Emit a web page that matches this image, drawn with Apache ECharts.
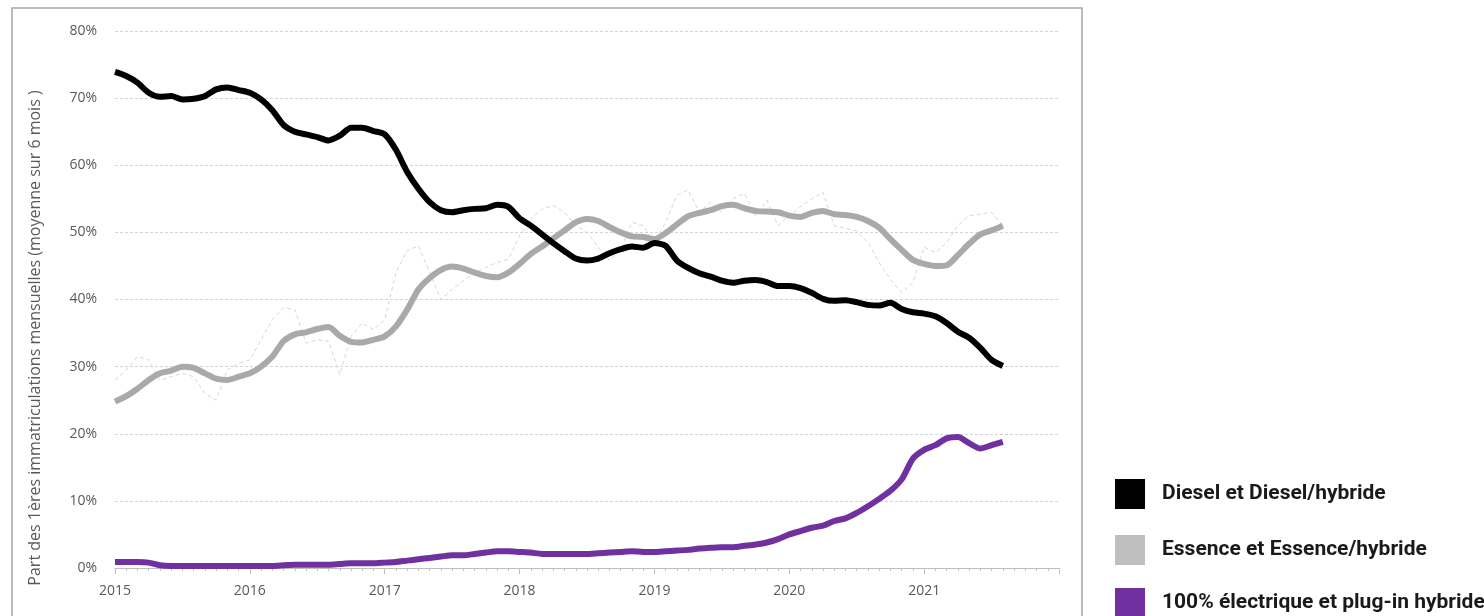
<!DOCTYPE html>
<html>
<head>
<meta charset="utf-8">
<script src="https://cdn.jsdelivr.net/npm/echarts@6/dist/echarts.min.js"></script>
<style>
html,body{margin:0;padding:0;background:#fff;}
#chart{width:1484px;height:616px;}
</style>
</head>
<body>
<div id="chart"></div>
<script>
// Monthly points starting January 2015 (index 0), ending August 2021
const yearLabels = ['2015','2016','2017','2018','2019','2020','2021'];
const seriesNames = ['Diesel et Diesel/hybride','Essence et Essence/hybride','100% électrique et plug-in hybride'];
const legendColors = ['#000000','#bfbfbf','#7030a0'];

const diesel = [73.9,73.3,72.3,70.8,70.2,70.3,69.8,69.9,70.3,71.3,71.6,71.2,
  70.8,69.8,68.2,66.0,65.0,64.6,64.2,63.7,64.4,65.6,65.6,65.1,
  64.6,62.3,59.0,56.5,54.5,53.3,53.0,53.3,53.5,53.6,54.1,53.8,
  52.1,51.0,49.7,48.4,47.2,46.1,45.8,46.1,46.9,47.5,47.9,47.7,
  48.4,48.0,45.8,44.7,43.9,43.4,42.8,42.5,42.8,42.9,42.6,42.0,
  42.0,41.7,41.0,40.1,39.8,39.9,39.6,39.2,39.1,39.5,38.6,38.1,
  37.9,37.5,36.5,35.2,34.3,32.8,31.0,30.1];

const essence = [24.8,25.6,26.7,28.0,29.0,29.4,30.0,29.8,29.0,28.2,28.0,28.5,
  29.0,30.0,31.5,33.8,34.8,35.1,35.6,35.9,34.6,33.7,33.6,34.0,
  34.5,36.0,38.5,41.5,43.2,44.4,44.9,44.6,44.0,43.5,43.3,44.0,
  45.3,46.8,47.9,49.1,50.3,51.5,52.0,51.7,50.8,50.0,49.4,49.3,
  49.0,49.9,51.2,52.4,52.9,53.3,53.9,54.1,53.6,53.2,53.1,53.0,
  52.5,52.3,52.9,53.2,52.7,52.6,52.3,51.7,50.7,49.0,47.4,45.9,
  45.3,45.0,45.1,46.6,48.3,49.7,50.3,51.0];

const essenceMonthly = [28.0,29.5,31.5,31.0,28.0,28.5,29.0,28.5,26.0,25.0,29.5,30.5,
  31.0,34.0,37.0,38.8,38.5,33.5,34.0,33.8,28.8,34.5,36.5,35.5,
  37.0,44.0,47.3,48.0,44.0,40.0,41.5,42.8,44.0,44.8,45.5,46.0,
  49.5,52.0,53.5,54.0,53.0,51.0,50.0,47.8,45.8,47.5,51.5,51.0,
  48.5,51.5,55.5,56.3,53.0,54.5,53.0,55.0,55.8,52.5,54.8,51.0,
  52.5,53.8,55.0,56.0,51.0,50.6,50.2,48.5,45.5,43.0,41.0,42.5,
  47.8,47.0,48.5,51.0,52.5,52.7,53.0,51.0];

const electric = [0.9,0.9,0.9,0.8,0.4,0.3,0.3,0.3,0.3,0.3,0.3,0.3,
  0.3,0.3,0.3,0.4,0.5,0.5,0.5,0.5,0.6,0.7,0.7,0.7,
  0.8,0.9,1.1,1.3,1.5,1.7,1.9,1.9,2.1,2.3,2.5,2.5,
  2.4,2.3,2.1,2.1,2.1,2.1,2.1,2.2,2.3,2.4,2.5,2.4,
  2.4,2.5,2.6,2.7,2.9,3.0,3.1,3.1,3.3,3.5,3.8,4.3,
  5.0,5.5,6.0,6.3,7.0,7.4,8.2,9.2,10.3,11.5,13.2,16.3,
  17.6,18.3,19.3,19.5,18.6,17.8,18.3,18.8];

const toPairs = arr => arr.map((v, i) => [i, v]);

const legendTops = [479, 535, 588];
const legends = seriesNames.map((name, k) => ({
  orient: 'vertical', left: 1115, top: legendTops[k], itemWidth: 30, itemHeight: 30, padding: 0,
  icon: 'rect', selectedMode: false,
  data: [{name: name, itemStyle: {color: legendColors[k]}}],
  textStyle: {color: '#1a1a1a', fontSize: 21, fontWeight: 'bold', fontFamily: 'Roboto', padding: [0, 0, 0, 12]}
}));

const chart = echarts.init(document.getElementById('chart'));
const axisGrey = '#595959';
chart.setOption({
  animation: false,
  grid: {left: 115, right: 425, top: 31, bottom: 48, containLabel: false},
  xAxis: {
    type: 'value', min: 0, max: 84, interval: 12,
    axisLine: {show: true, lineStyle: {color: '#bfbfbf', width: 1}},
    axisTick: {show: true, length: 6, lineStyle: {color: '#bfbfbf'}},
    minorTick: {show: true, splitNumber: 12, length: 3, lineStyle: {color: '#bfbfbf'}},
    splitLine: {show: false},
    axisLabel: {
      color: axisGrey, fontSize: 14, fontFamily: 'Open Sans', margin: 16,
      formatter: v => { const k = Math.round(v / 12); return k < yearLabels.length ? yearLabels[k] : ''; }
    }
  },
  yAxis: {
    type: 'value', min: 0, max: 80, interval: 10,
    axisLine: {show: false}, axisTick: {show: false},
    splitLine: {show: true, lineStyle: {color: '#d4d4d4', type: [3, 2], width: 1}},
    axisLabel: {color: axisGrey, fontSize: 14, fontFamily: 'Open Sans', margin: 18, formatter: '{value}%'}
  },
  legend: legends,
  graphic: [
    {type: 'rect', silent: true, z: -1, shape: {x: 12, y: 8, width: 1070, height: 640},
      style: {fill: 'none', stroke: '#a6a6a6', lineWidth: 1.5}},
    {type: 'text', x: 35, y: 338, rotation: Math.PI / 2,
      style: {text: 'Part des 1ères immatriculations mensuelles (moyenne sur 6 mois )',
        fill: axisGrey, fontSize: 16, fontFamily: 'Open Sans', align: 'center', verticalAlign: 'middle'}}
  ],
  series: [
    {name: 'Essence mensuel', type: 'line', data: toPairs(essenceMonthly), showSymbol: false, z: 1,
      lineStyle: {color: '#d6d6d6', width: 1, type: [4, 3]}},
    {name: seriesNames[1], type: 'line', data: toPairs(essence), showSymbol: false, smooth: 0.25, z: 2,
      lineStyle: {color: '#a9a9a9', width: 6}, itemStyle: {color: '#bfbfbf'}},
    {name: seriesNames[0], type: 'line', data: toPairs(diesel), showSymbol: false, smooth: 0.25, z: 3,
      lineStyle: {color: '#000000', width: 6}, itemStyle: {color: '#000000'}},
    {name: seriesNames[2], type: 'line', data: toPairs(electric), showSymbol: false, smooth: 0.25, z: 4,
      lineStyle: {color: '#7030a0', width: 6}, itemStyle: {color: '#7030a0'}}
  ]
});
</script>
</body>
</html>
